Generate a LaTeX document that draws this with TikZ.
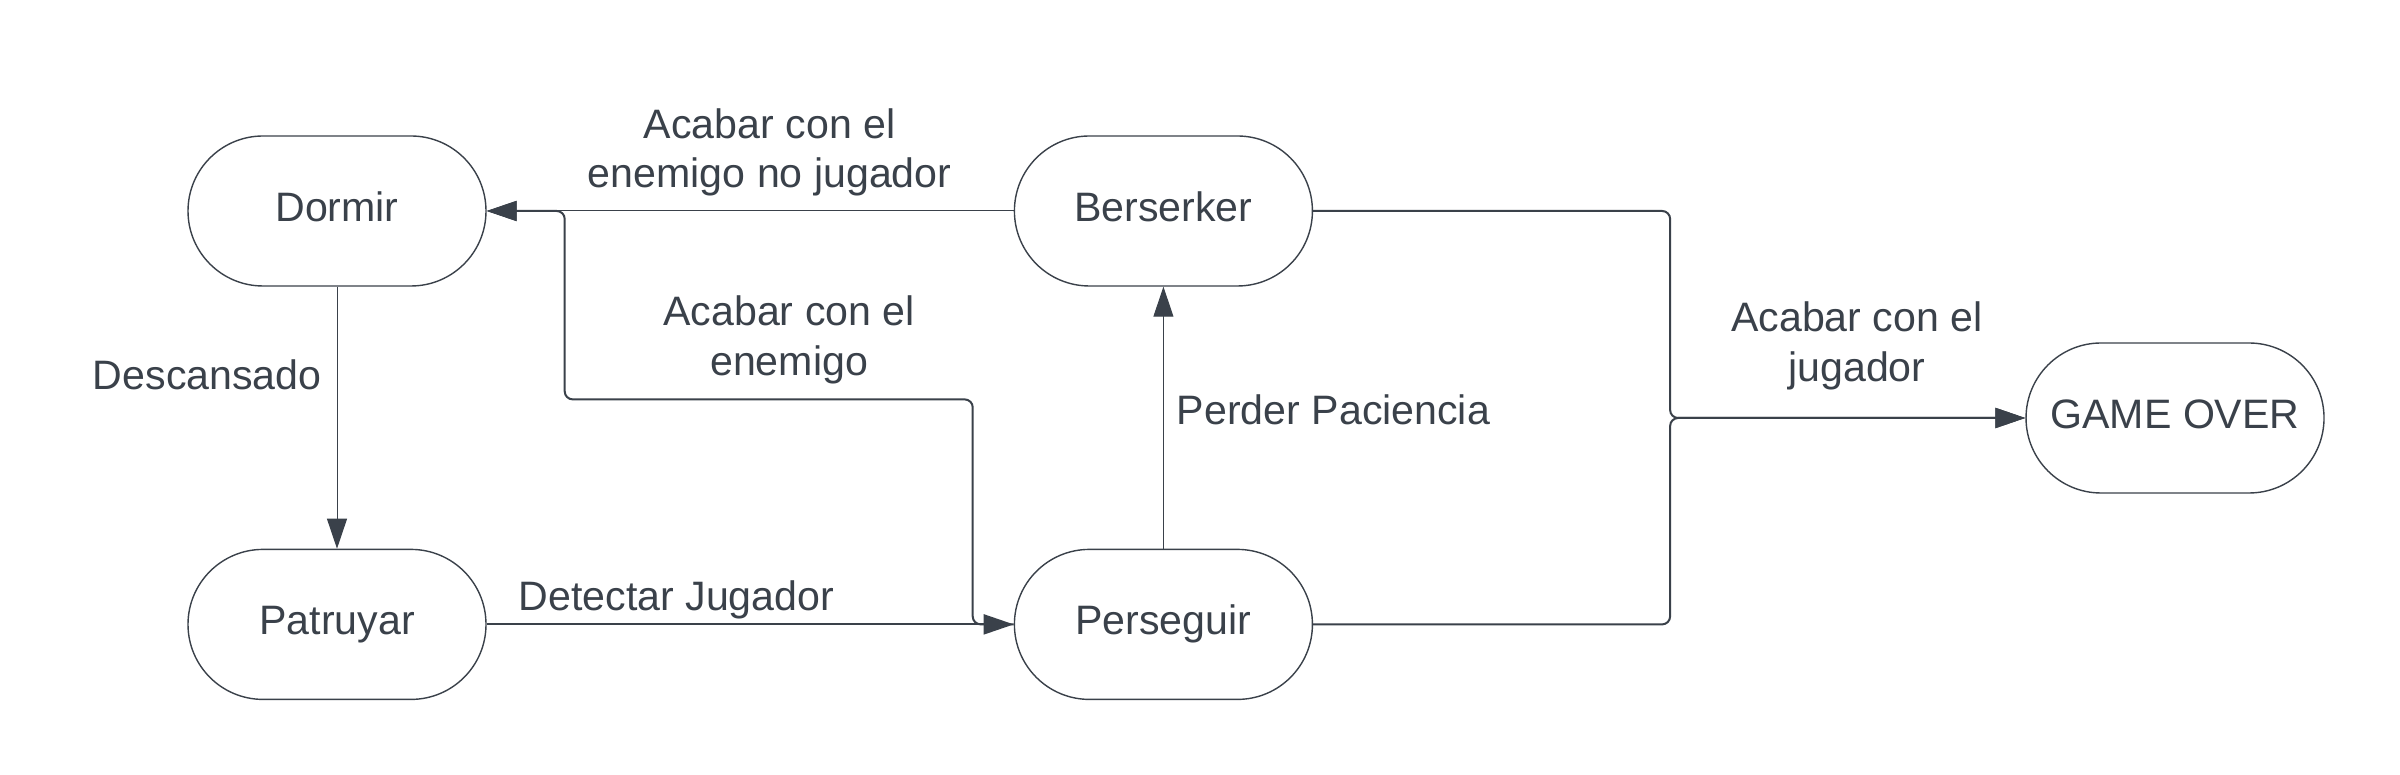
\documentclass[tikz,border=0pt]{standalone}
\usepackage{fontspec}
\setmainfont{Liberation Sans}
\usetikzlibrary{positioning,arrows.meta}
\definecolor{slate}{RGB}{58,65,74}
\tikzstyle{state} = [draw=slate,text=slate,line width=0.4pt,rectangle,rounded corners=0.75cm,minimum width=2.98cm,minimum height=1.5cm,text height=8.4pt,text depth=2.6pt,font=\fontsize{11.7}{14.2}\selectfont]
\tikzstyle{cond} = [text=slate,align=center,inner sep=0pt,font=\fontsize{11.7}{14.2}\selectfont]
\tikzstyle{wire} = [draw=slate,line width=0.57pt,rounded corners=0.8mm,-{Triangle[length=3mm,width=2mm]}]
\tikzstyle{thin wire} = [wire,line width=0.28pt]

\begin{document}
\begin{tikzpicture}
	\useasboundingbox (0,0) rectangle (24,7.74);
	\node (dormir) [state] at (3.37,5.63) {Dormir};
	\node (berserker) [state,right=5.27cm of dormir] {Berserker};
	\node (patruyar) [state,below=2.62cm of dormir] {Patruyar};
	\node (perseguir) [state,below=2.62cm of berserker] {Perseguir};
	\node (gameover) [state] at (21.75,3.56) {GAME OVER};
	\draw [thin wire] (dormir) -- node[cond,left=1.5mm,pos=0.336] {Descansado} (patruyar);
	\draw [wire] (patruyar) -- node[cond,above=0.4mm,pos=0.36] {Detectar Jugador} (perseguir);
	\draw [thin wire] (berserker) -- node[cond,above=1.4mm,pos=0.463] {Acabar con el\\enemigo no jugador} (dormir);
	\draw [wire] (perseguir.west) -- ++(-0.41,0) -- ++(0,2.25) -- node[cond,above=1.4mm,pos=0.45] {Acabar con el\\enemigo} ++(-4.08,0) |- (dormir.east);
	\draw [thin wire] (perseguir) -- node[cond,right=1.3mm,pos=0.529] {Perder Paciencia} (berserker);
	\draw [wire] (berserker.east) -- ++(3.57,0) |- node[cond,above=2.7mm,pos=0.763] {Acabar con el\\jugador} (gameover.west);
	\draw [wire] (perseguir.east) -- ++(3.57,0) |- (gameover.west);
\end{tikzpicture}
\end{document}
